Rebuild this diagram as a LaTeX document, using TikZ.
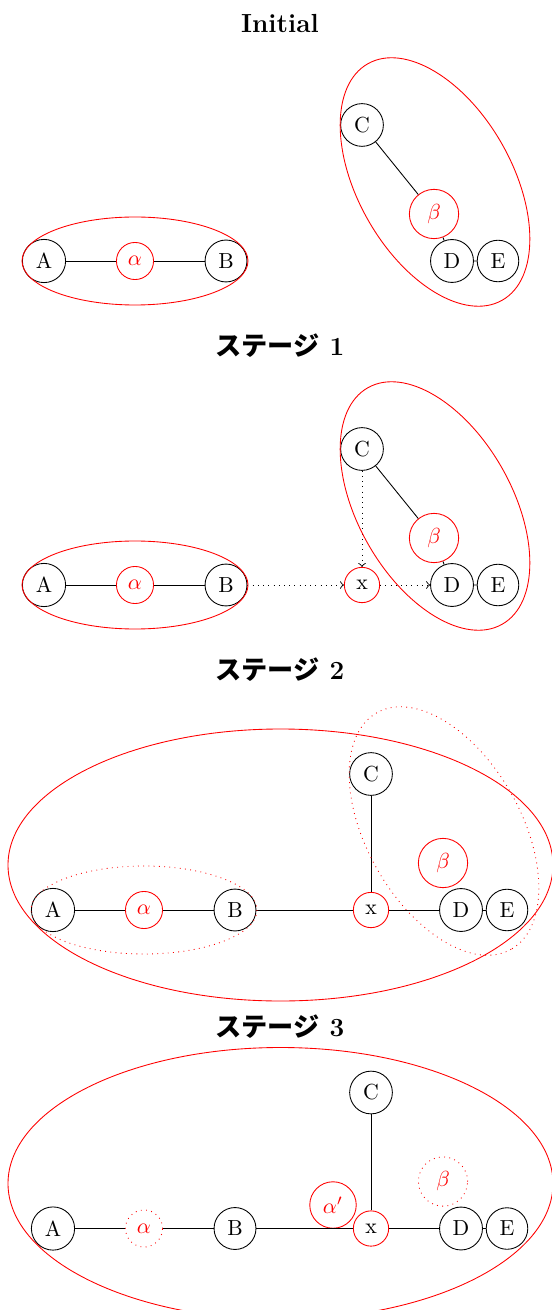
\documentclass[tikz,border=0pt]{standalone}
\usepackage{fontspec}
\newfontfamily\jpfont{Noto Sans CJK JP}
\tikzset{
  vertex/.style={circle,draw},
  cell/.style={circle,draw=red,text=red},
  bigcell/.style={cell,minimum size=22.6pt},
  merge/.style={circle,draw=red},
  title/.style={font=\large\bfseries},
  group/.style={red},
  ghost/.style={red,dotted},
}
\begin{document}
\begin{tikzpicture}[x=0.4587pt,y=-0.4587pt]
\useasboundingbox (0,0) rectangle (552,1310);

% initial
\node[title] (t0) at (280,24) {Initial};
\node[vertex] (A0) at (44,261) {A};
\node[cell] (al0) at (135,261) {$\alpha$};
\node[vertex] (B0) at (226,261) {B};
\node[vertex] (C0) at (362,125) {C};
\node[bigcell] (be0) at (434,214) {$\beta$};
\node[vertex] (D0) at (452,261) {D};
\node[vertex] (E0) at (498,261) {E};
\draw (A0) -- (al0) -- (B0);
\draw (C0) -- (be0) -- (D0) -- (E0);
\draw[group] (135,261) ellipse [x radius=113, y radius=44];
\draw[group,rotate around={-60.4:(435,182)}] (435,182) ellipse [x radius=136, y radius=77];

% stage 1
\node[title] (t1) at (280,346) {{\jpfont ステージ} 1};
\node[vertex] (A1) at (44,585) {A};
\node[cell] (al1) at (135,585) {$\alpha$};
\node[vertex] (B1) at (226,585) {B};
\node[vertex] (C1) at (362,449) {C};
\node[bigcell] (be1) at (434,538) {$\beta$};
\node[merge] (x1) at (362,585) {x};
\node[vertex] (D1) at (452,585) {D};
\node[vertex] (E1) at (498,585) {E};
\draw (A1) -- (al1) -- (B1);
\draw (C1) -- (be1) -- (D1) -- (E1);
\draw[dotted,->] (B1) -- (x1);
\draw[dotted,->] (x1) -- (D1);
\draw[dotted,->] (C1) -- (x1);
\draw[group] (135,585) ellipse [x radius=113, y radius=44];
\draw[group,rotate around={-60.4:(435,506)}] (435,506) ellipse [x radius=136, y radius=77];

% stage 2
\node[title] (t2) at (280,670) {{\jpfont ステージ} 2};
\node[vertex] (A2) at (53,910) {A};
\node[cell] (al2) at (144,910) {$\alpha$};
\node[vertex] (B2) at (235,910) {B};
\node[vertex] (C2) at (371,774) {C};
\node[bigcell] (be2) at (443,863) {$\beta$};
\node[merge] (x2) at (371,910) {x};
\node[vertex] (D2) at (461,910) {D};
\node[vertex] (E2) at (507,910) {E};
\draw (A2) -- (al2) -- (B2) -- (x2) -- (D2) -- (E2);
\draw (C2) -- (x2);
\draw[ghost] (144,910) ellipse [x radius=113, y radius=44];
\draw[ghost,rotate around={-60.4:(444,831)}] (444,831) ellipse [x radius=136, y radius=77];
\draw[group] (280.5,865) ellipse [x radius=272.5, y radius=136];

% stage 3
\node[title] (t3) at (280,1027) {{\jpfont ステージ} 3};
\node[vertex] (A3) at (53,1228.5) {A};
\node[cell,dotted] (al3) at (144,1228.5) {$\alpha$};
\node[vertex] (B3) at (235,1228.5) {B};
\node[vertex] (C3) at (371,1092.5) {C};
\node[bigcell,dotted] (be3) at (443,1181.5) {$\beta$};
\node[merge] (x3) at (371,1228.5) {x};
\node[vertex] (D3) at (461,1228.5) {D};
\node[vertex] (E3) at (507,1228.5) {E};
\node[cell] (al3p) at (333,1205) {$\alpha'$};
\draw (A3) -- (al3) -- (B3) -- (x3) -- (D3) -- (E3);
\draw (C3) -- (x3);
\draw[group] (280.5,1183.5) ellipse [x radius=272.5, y radius=136];
\end{tikzpicture}
\end{document}
